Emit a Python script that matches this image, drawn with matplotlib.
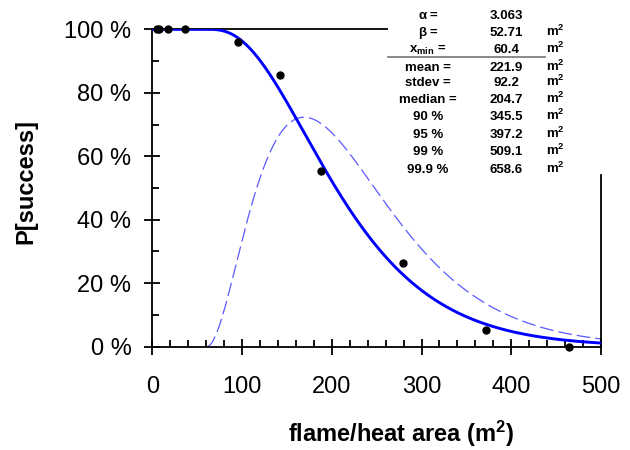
import math
import numpy as np
import matplotlib
matplotlib.use("Agg")
import matplotlib.pyplot as plt
from matplotlib.ticker import MultipleLocator, FuncFormatter

plt.rcParams['font.family'] = ['Liberation Sans', 'DejaVu Sans']
plt.rcParams['mathtext.fontset'] = 'custom'
plt.rcParams['mathtext.rm'] = 'Liberation Sans'
plt.rcParams['mathtext.bf'] = 'Liberation Sans:bold'
plt.rcParams['mathtext.it'] = 'Liberation Sans:italic'

# observed fire sizes and fraction successfully handled
area_obs = [5, 8, 18, 37, 95, 142, 188, 279, 372, 464]
success_obs = [100, 100, 100, 100, 96.1, 85.6, 55.4, 26.4, 5.3, 0.0]

# shifted gamma fit
alpha = 3.063
beta = 52.71
x_min = 60.4
pdf_peak = 72.3   # height the density curve is scaled to (%)

stat_names = [r"$\mathbf{\alpha}$ =", r"$\mathbf{\beta}$ =", r"$\mathbf{x_{min}}$ =",
              "mean =", "stdev =", "median =", "90 %", "95 %", "99 %", "99.9 %"]
stat_values = ["3.063", "52.71", "60.4", "221.9", "92.2", "204.7",
               "345.5", "397.2", "509.1", "658.6"]
stat_units = ["", "m2", "m2", "m2", "m2", "m2", "m2", "m2", "m2", "m2"]

# fitted curves
x = np.linspace(0, 500, 2001)
z = np.clip((x - x_min) / beta, 0, None)
pdf = z ** (alpha - 1) * np.exp(-z) / (beta * math.gamma(alpha))
pdf[x < x_min] = 0.0
cdf = np.concatenate([[0.0], np.cumsum(0.5 * (pdf[1:] + pdf[:-1]) * np.diff(x))])
surv = 100 * (1 - cdf)
dens = pdf / pdf.max() * pdf_peak

fig = plt.figure(figsize=(6.3, 4.5), dpi=100)
ax = fig.add_axes([0.2417, 0.2296, 0.7123, 0.7053])

ax.plot(x, surv, color='#0000ff', lw=2.1, zorder=3)
m = x >= x_min
dl, = ax.plot(x[m], dens[m], color='#5a5aff', lw=0.9, zorder=2)
dl.set_dashes((11, 4))
ax.plot(area_obs, success_obs, 'o', color='black', ms=5, zorder=4, clip_on=False)

ax.set_xlim(0, 500)
ax.set_ylim(0, 100)
ax.xaxis.set_major_locator(MultipleLocator(100))
ax.xaxis.set_minor_locator(MultipleLocator(20))
ax.yaxis.set_major_locator(MultipleLocator(20))
ax.yaxis.set_minor_locator(MultipleLocator(10))
ax.yaxis.set_major_formatter(FuncFormatter(lambda v, p: "%d %%" % v))
ax.tick_params(which='major', direction='inout', length=12, width=1.3, labelsize=17)
ax.tick_params(which='minor', direction='in', length=5, width=1.3)
ax.tick_params(axis='x', which='major', pad=15)
ax.tick_params(axis='y', which='major', pad=9)

for s in ax.spines.values():
    s.set_linewidth(1.3)
ax.spines['top'].set_bounds(0, 262)
ax.spines['right'].set_bounds(0, 54)

ax.set_xlabel(r"flame/heat area ($\mathbf{m^2}$)", fontsize=17, fontweight='bold')
ax.set_ylabel("P[success]", fontsize=17, fontweight='bold')
ax.xaxis.set_label_coords(0.555, -0.228)
ax.yaxis.set_label_coords(-0.255, 0.52)

# parameter table
rows_y = [15.7, 33.3, 50.2, 67.7, 83.3, 100, 117.3, 135, 152.3, 170]
for name, val, unit, py in zip(stat_names, stat_values, stat_units, rows_y):
    fy = 1 - py / 450
    fig.text(428 / 630, fy, name, ha='center', va='center', fontsize=9.5, fontweight='bold')
    fig.text(506 / 630, fy, val, ha='center', va='center', fontsize=9.5, fontweight='bold')
    if unit:
        fig.text(546 / 630, fy + 0.004, r"$\mathbf{m^2}$", ha='left', va='center', fontsize=9.5)
fig.add_artist(plt.Line2D([388 / 630, 545 / 630], [1 - 57 / 450] * 2,
                          color='#808080', lw=1.3))

fig.savefig("out.png", dpi=100)
